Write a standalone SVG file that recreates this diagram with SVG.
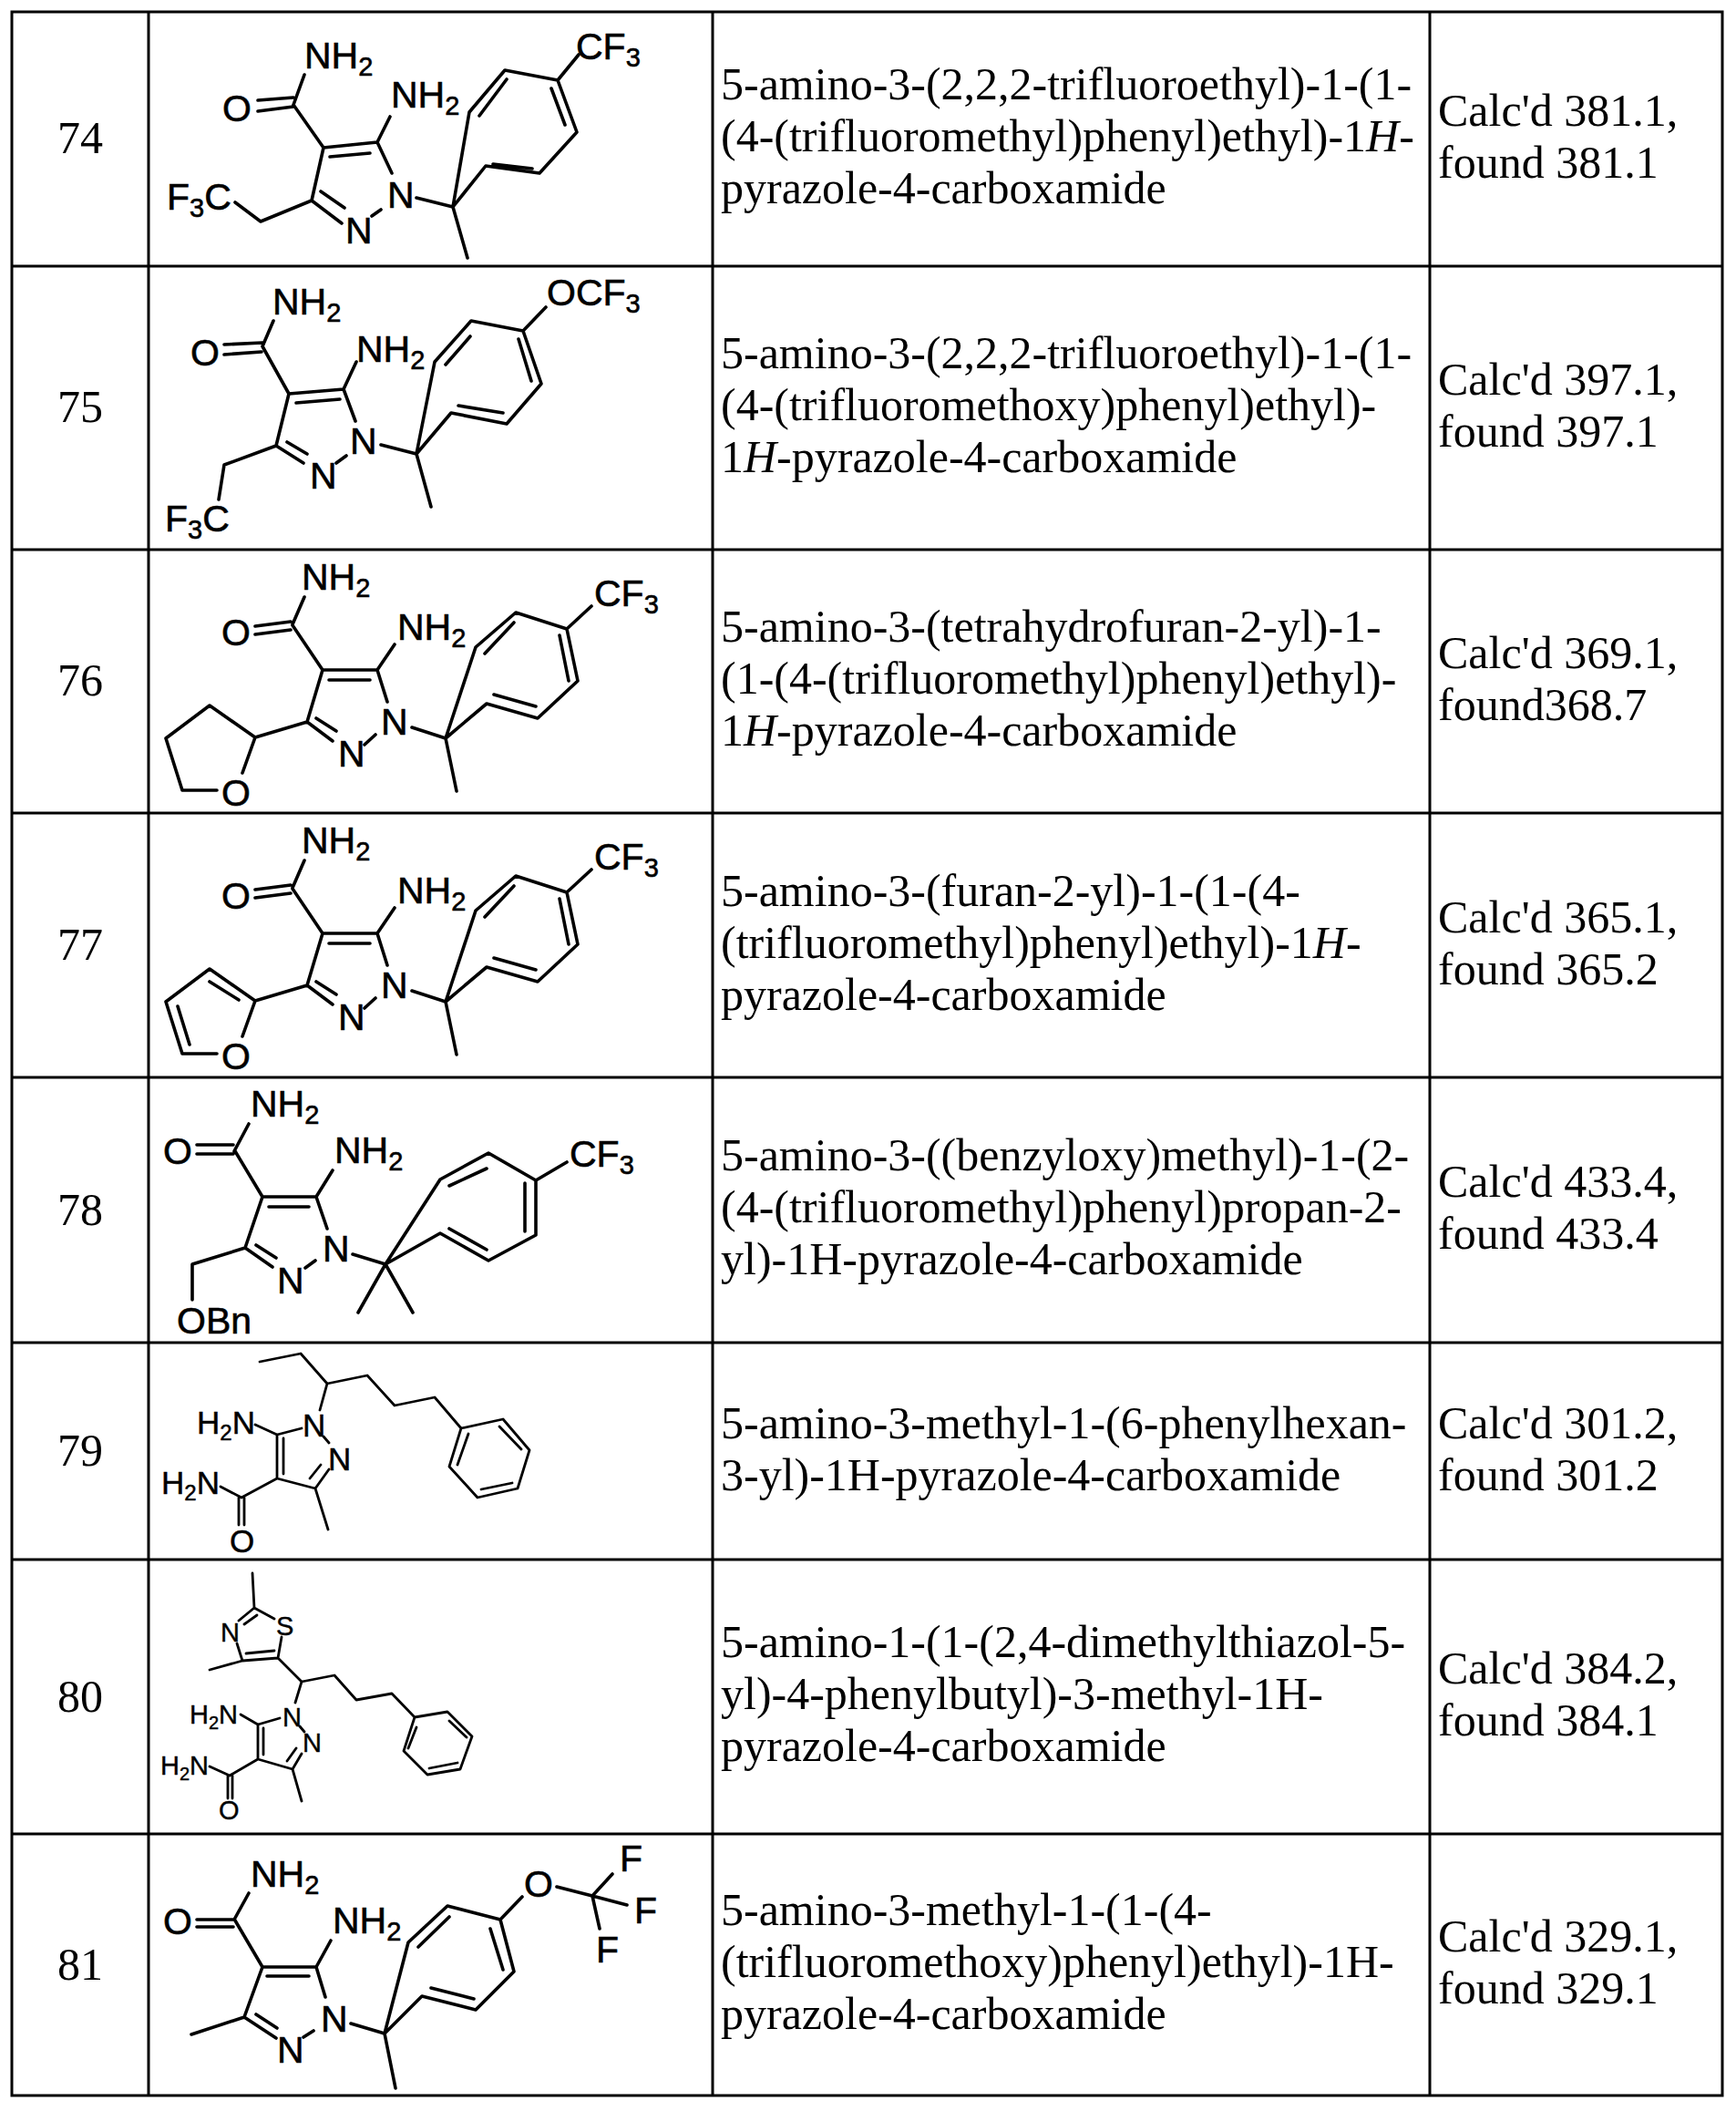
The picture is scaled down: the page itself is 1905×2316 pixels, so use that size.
<svg xmlns="http://www.w3.org/2000/svg" width="1905" height="2316" viewBox="0 0 1905 2316">
<style>
.grid{stroke:#000;stroke-width:3;fill:none}
.b{stroke:#000;stroke-width:3.6;fill:none;stroke-linecap:round;stroke-linejoin:round}
.bs{stroke:#000;stroke-width:2.8;fill:none;stroke-linecap:round;stroke-linejoin:round}
.t{font-family:"Liberation Serif","Times New Roman",serif;font-size:50px;fill:#000}
.n{font-family:"Liberation Serif","Times New Roman",serif;font-size:50px;fill:#000;text-anchor:middle}
.a{font-family:"Liberation Sans",Arial,sans-serif;font-size:41px;fill:#000;stroke:#000;stroke-width:0.6}
.a2{font-family:"Liberation Sans",Arial,sans-serif;font-size:35px;fill:#000;stroke:#000;stroke-width:0.5}
.a3{font-family:"Liberation Sans",Arial,sans-serif;font-size:29px;fill:#000;stroke:#000;stroke-width:0.4}
.s{font-size:29px}
.s2{font-size:24px}
.s3{font-size:20px}
.i{font-style:italic}
</style>
<defs>
<g id="core76">
<path class="b" d="M334 655 L321 685 M280 687 L319 682 M280 696 L319 691 M321 686 L354 735 M354 735 L414 735 M361 746 L406 746 M414 735 L433 707 M414 735 L425 770 M354 735 L337 792 M337 792 L365 813 M347 788 L369 802 M400 817 L412 806 M452 798 L489 810 L501 868 M489 810 L534 772 L590 788 L634 747 L622 690 L566 672 L522 710 Z M532 717 L564 683 M614 697 L624 747 M542 762 L588 775 M622 690 L649 665 M337 792 L280 809 M280 809 L230 774 L182 810 L200 867 L238 867 M280 809 L266 848"/>
<text class="a" x="331" y="647">NH<tspan class="s" dy="8">2</tspan></text>
<text class="a" x="243" y="708">O</text>
<text class="a" x="436" y="702">NH<tspan class="s" dy="8">2</tspan></text>
<text class="a" x="418" y="806">N</text>
<text class="a" x="371" y="841">N</text>
<text class="a" x="652" y="665">CF<tspan class="s" dy="8">3</tspan></text>
<text class="a" x="243" y="884">O</text>
</g>
</defs>
<g id="table">
<rect class="grid" x="13" y="13" width="1877" height="2286"/>
<path class="grid" d="M163 13 V2299 M782 13 V2299 M1569 13 V2299 M13 292 H1890 M13 603 H1890 M13 892 H1890 M13 1182 H1890 M13 1473 H1890 M13 1711 H1890 M13 2012 H1890"/>
</g>
<g id="row74">
<text class="n" x="88" y="168">74</text>
<path class="b" d="M334 82 L322 115 M283 110 L322 107 M283 122 L322 117 M322 115 L355 162 M355 162 L414 156 M362 172 L406 168 M414 156 L428 128 M414 156 L430 190 M355 162 L342 220 M342 220 L375 245 M352 210 L378 228 M408 237 L418 230 M342 220 L286 243 L258 222 M457 217 L497 227 L513 283 M497 227 L533 182 L592 190 L633 145 L612 88 L554 77 L515 123 Z M526 127 L556 87 M605 97 L620 137 M541 180 L584 185 M612 88 L635 60"/>
<text class="a" x="334" y="75">NH<tspan class="s" dy="8">2</tspan></text>
<text class="a" x="244" y="133">O</text>
<text class="a" x="429" y="118">NH<tspan class="s" dy="8">2</tspan></text>
<text class="a" x="425" y="228">N</text>
<text class="a" x="379" y="267">N</text>
<text class="a" x="183" y="230">F<tspan class="s" dy="8">3</tspan><tspan dy="-8">C</tspan></text>
<text class="a" x="632" y="65">CF<tspan class="s" dy="8">3</tspan></text>
<text class="t" x="791" y="109">5-amino-3-(2,2,2-trifluoroethyl)-1-(1-</text>
<text class="t" x="791" y="166">(4-(trifluoromethyl)phenyl)ethyl)-1<tspan class="i">H</tspan>-</text>
<text class="t" x="791" y="223">pyrazole-4-carboxamide</text>
<text class="t" x="1578" y="138">Calc'd 381.1,</text>
<text class="t" x="1578" y="195">found 381.1</text>
</g>
<g id="row75">
<text class="n" x="88" y="463">75</text>
<path class="b" d="M300 352 L288 380 M246 378 L288 376 M246 389 L287 386 M288 380 L317 432 M317 432 L377 427 M325 442 L373 438 M377 427 L391 397 M377 427 L390 462 M317 432 L303 489 M303 489 L333 508 M315 485 L337 498 M369 508 L380 500 M303 489 L246 510 L240 548 M418 488 L457 498 L473 556 M457 498 L495 453 L556 465 L594 421 L574 363 L517 352 L477 397 Z M489 400 L516 369 M569 372 L583 418 M503 445 L552 453 M574 363 L599 337"/>
<text class="a" x="299" y="345">NH<tspan class="s" dy="8">2</tspan></text>
<text class="a" x="209" y="401">O</text>
<text class="a" x="391" y="397">NH<tspan class="s" dy="8">2</tspan></text>
<text class="a" x="384" y="498">N</text>
<text class="a" x="340" y="536">N</text>
<text class="a" x="600" y="335">OCF<tspan class="s" dy="8">3</tspan></text>
<text class="a" x="181" y="583">F<tspan class="s" dy="8">3</tspan><tspan dy="-8">C</tspan></text>
<text class="t" x="791" y="404">5-amino-3-(2,2,2-trifluoroethyl)-1-(1-</text>
<text class="t" x="791" y="461">(4-(trifluoromethoxy)phenyl)ethyl)-</text>
<text class="t" x="791" y="518">1<tspan class="i">H</tspan>-pyrazole-4-carboxamide</text>
<text class="t" x="1578" y="433">Calc'd 397.1,</text>
<text class="t" x="1578" y="490">found 397.1</text>
</g>
<g id="row76">
<text class="n" x="88" y="763">76</text>
<use href="#core76"/>
<text class="t" x="791" y="704">5-amino-3-(tetrahydrofuran-2-yl)-1-</text>
<text class="t" x="791" y="761">(1-(4-(trifluoromethyl)phenyl)ethyl)-</text>
<text class="t" x="791" y="818">1<tspan class="i">H</tspan>-pyrazole-4-carboxamide</text>
<text class="t" x="1578" y="733">Calc'd 369.1,</text>
<text class="t" x="1578" y="790">found368.7</text>
</g>
<g id="row77">
<text class="n" x="88" y="1053">77</text>
<g transform="translate(0,289)">
<use href="#core76"/>
<path class="b" d="M230 788 L262 808 M195 815 L208 857"/>
</g>
<text class="t" x="791" y="994">5-amino-3-(furan-2-yl)-1-(1-(4-</text>
<text class="t" x="791" y="1051">(trifluoromethyl)phenyl)ethyl)-1<tspan class="i">H</tspan>-</text>
<text class="t" x="791" y="1108">pyrazole-4-carboxamide</text>
<text class="t" x="1578" y="1023">Calc'd 365.1,</text>
<text class="t" x="1578" y="1080">found 365.2</text>
</g>
<g id="row78">
<text class="n" x="88" y="1344">78</text>
<path class="b" d="M273 1233 L257 1263 M216 1256 L256 1256 M216 1266 L256 1266 M258 1263 L288 1313 M288 1313 L347 1313 M295 1324 L339 1324 M347 1313 L365 1284 M347 1313 L359 1348 M288 1313 L269 1369 M269 1369 L299 1390 M281 1366 L303 1380 M335 1391 L346 1383 M269 1369 L211 1387 L211 1426 M387 1376 L423 1387 M393 1440 L423 1387 L453 1440 M423 1387 L483 1353 L536 1383 L588 1355 L588 1295 L536 1265 L483 1294 Z M493 1301 L534 1282 M576 1298 L576 1351 M493 1348 L534 1371 M588 1295 L622 1275"/>
<text class="a" x="275" y="1225">NH<tspan class="s" dy="8">2</tspan></text>
<text class="a" x="179" y="1277">O</text>
<text class="a" x="367" y="1276">NH<tspan class="s" dy="8">2</tspan></text>
<text class="a" x="354" y="1384">N</text>
<text class="a" x="304" y="1419">N</text>
<text class="a" x="625" y="1280">CF<tspan class="s" dy="8">3</tspan></text>
<text class="a" x="194" y="1463">OBn</text>
<text class="t" x="791" y="1284">5-amino-3-((benzyloxy)methyl)-1-(2-</text>
<text class="t" x="791" y="1341">(4-(trifluoromethyl)phenyl)propan-2-</text>
<text class="t" x="791" y="1398">yl)-1H-pyrazole-4-carboxamide</text>
<text class="t" x="1578" y="1313">Calc'd 433.4,</text>
<text class="t" x="1578" y="1370">found 433.4</text>
</g>
<g id="row79">
<text class="n" x="88" y="1608">79</text>
<path class="bs" d="M285 1494 L330 1485 L359 1518 L403 1509 L433 1542 L477 1533 L506 1567 M506 1567 L552 1557 L581 1591 L568 1633 L524 1643 L493 1609 Z M548 1565 L572 1590 M528 1634 L562 1627 M514 1573 L502 1607 M359 1518 L351 1547 M355 1576 L361 1583 M304 1574 L331 1567 M280 1563 L304 1574 M304 1574 L304 1622 M311 1578 L311 1617 M304 1622 L346 1633 M346 1633 L361 1612 M340 1622 L352 1607 M346 1633 L360 1678 M304 1622 L265 1643 L242 1631 M262 1643 L262 1673 M268 1643 L268 1673"/>
<text class="a2" x="216" y="1573">H<tspan class="s2" dy="7">2</tspan><tspan dy="-7">N</tspan></text>
<text class="a2" x="332" y="1576">N</text>
<text class="a2" x="360" y="1613">N</text>
<text class="a2" x="177" y="1639">H<tspan class="s2" dy="7">2</tspan><tspan dy="-7">N</tspan></text>
<text class="a2" x="252" y="1703">O</text>
<text class="t" x="791" y="1578">5-amino-3-methyl-1-(6-phenylhexan-</text>
<text class="t" x="791" y="1635">3-yl)-1H-pyrazole-4-carboxamide</text>
<text class="t" x="1578" y="1578">Calc'd 301.2,</text>
<text class="t" x="1578" y="1635">found 301.2</text>
</g>
<g id="row80">
<text class="n" x="88" y="1878">80</text>
<path class="bs" d="M277 1726 L279 1764 L301 1776 M279 1764 L262 1778 M282 1772 L268 1782 M260 1803 L266 1822 L230 1832 M266 1822 L305 1819 M270 1814 L301 1811 M305 1819 L309 1796 M305 1819 L331 1845 L367 1838 L391 1865 L430 1858 L455 1884 M455 1884 L491 1878 L518 1905 L505 1941 L469 1947 L443 1921 Z M493 1888 L512 1906 M471 1940 L502 1934 M457 1895 L448 1918 M331 1845 L324 1868 M329 1894 L334 1900 M283 1892 L307 1885 M264 1881 L283 1892 M283 1892 L283 1930 M289 1896 L289 1925 M283 1930 L321 1941 M321 1941 L331 1924 M315 1932 L325 1918 M321 1941 L331 1976 M283 1930 L252 1948 L230 1938 M250 1948 L250 1973 M255 1948 L255 1973"/>
<text class="a3" x="303" y="1794">S</text>
<text class="a3" x="242" y="1801">N</text>
<text class="a3" x="310" y="1894">N</text>
<text class="a3" x="332" y="1922">N</text>
<text class="a3" x="208" y="1891">H<tspan class="s3" dy="6">2</tspan><tspan dy="-6">N</tspan></text>
<text class="a3" x="176" y="1947">H<tspan class="s3" dy="6">2</tspan><tspan dy="-6">N</tspan></text>
<text class="a3" x="240" y="1996">O</text>
<text class="t" x="791" y="1818">5-amino-1-(1-(2,4-dimethylthiazol-5-</text>
<text class="t" x="791" y="1875">yl)-4-phenylbutyl)-3-methyl-1H-</text>
<text class="t" x="791" y="1932">pyrazole-4-carboxamide</text>
<text class="t" x="1578" y="1847">Calc'd 384.2,</text>
<text class="t" x="1578" y="1904">found 384.1</text>
</g>
<g id="row81">
<text class="n" x="88" y="2172">81</text>
<path class="b" d="M273 2077 L257 2106 M216 2106 L256 2106 M216 2114 L256 2114 M258 2107 L288 2158 M288 2158 L347 2158 M293 2168 L339 2168 M347 2158 L363 2129 M347 2158 L357 2191 M288 2158 L268 2213 M268 2213 L303 2236 M281 2210 L304 2225 M333 2235 L344 2228 M268 2213 L210 2232 M385 2220 L422 2231 L434 2291 M422 2231 L463 2190 L522 2205 L564 2163 L549 2106 L491 2091 L448 2131 Z M473 2181 L520 2193 M538 2116 L552 2161 M493 2103 L459 2136 M549 2106 L573 2081 M611 2070 L650 2080 M672 2056 L650 2080 L688 2090 M650 2080 L658 2116"/>
<text class="a" x="275" y="2070">NH<tspan class="s" dy="8">2</tspan></text>
<text class="a" x="179" y="2122">O</text>
<text class="a" x="365" y="2121">NH<tspan class="s" dy="8">2</tspan></text>
<text class="a" x="352" y="2229">N</text>
<text class="a" x="304" y="2263">N</text>
<text class="a" x="575" y="2081">O</text>
<text class="a" x="680" y="2053">F</text>
<text class="a" x="696" y="2110">F</text>
<text class="a" x="654" y="2153">F</text>
<text class="t" x="791" y="2112">5-amino-3-methyl-1-(1-(4-</text>
<text class="t" x="791" y="2169">(trifluoromethoxy)phenyl)ethyl)-1H-</text>
<text class="t" x="791" y="2226">pyrazole-4-carboxamide</text>
<text class="t" x="1578" y="2141">Calc'd 329.1,</text>
<text class="t" x="1578" y="2198">found 329.1</text>
</g>
</svg>
